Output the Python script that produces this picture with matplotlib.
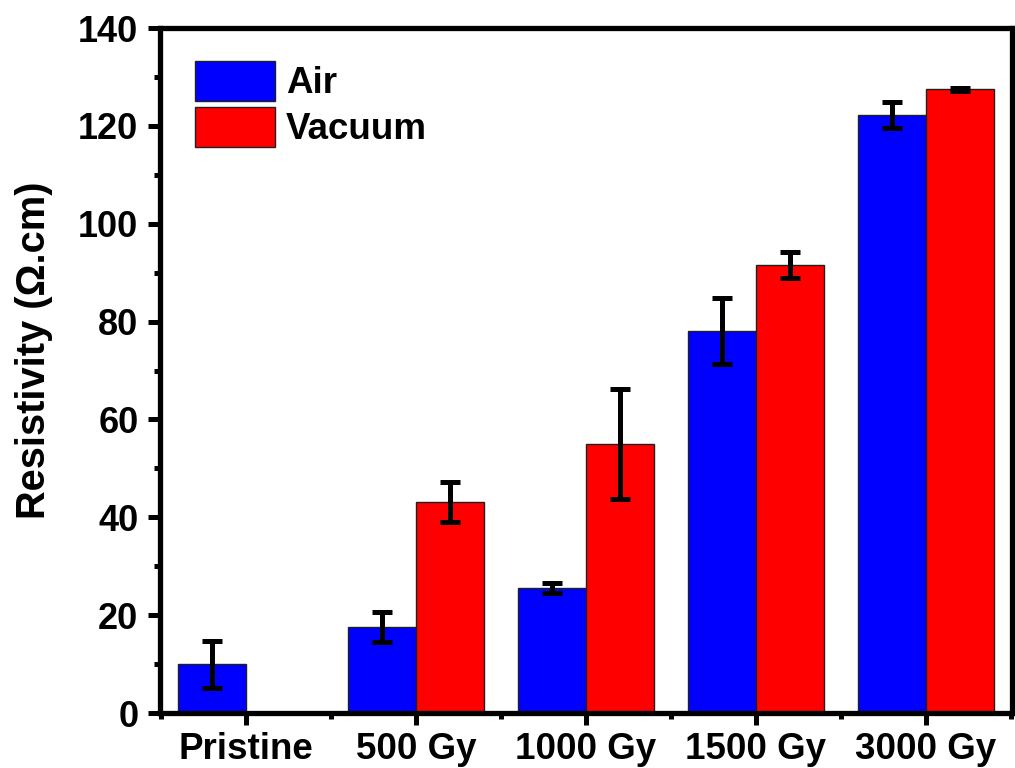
import numpy as np
import matplotlib.pyplot as plt
from matplotlib.ticker import MultipleLocator, FixedLocator

# Data
categories = ["Pristine", "500 Gy", "1000 Gy", "1500 Gy", "3000 Gy"]
air_values = [10.0, 17.6, 25.6, 78.1, 122.2]
air_errors = [4.8, 3.0, 1.0, 6.7, 2.7]
vacuum_values = [np.nan, 43.1, 55.0, 91.6, 127.5]
vacuum_errors = [np.nan, 4.1, 11.3, 2.7, 0.3]


def main():
    plt.rcParams['font.family'] = ['Liberation Sans', 'DejaVu Sans']
    plt.rcParams['font.weight'] = 'bold'

    fig = plt.figure(figsize=(10.15, 7.68), dpi=100)
    ax = fig.add_axes([0.1576, 0.0716, 0.8394, 0.8919])

    x = np.arange(len(categories))
    width = 0.4
    err_kw = dict(elinewidth=3.6, capsize=7, capthick=3.6, ecolor='black')

    ax.bar(x - width / 2, air_values, width, yerr=air_errors, color='#0000ff',
           edgecolor='#202020', linewidth=1, label='Air', error_kw=err_kw)
    ax.bar(x + width / 2, vacuum_values, width, yerr=vacuum_errors, color='#ff0000',
           edgecolor='#202020', linewidth=1, label='Vacuum', error_kw=err_kw)

    ax.set_xlim(-0.506, len(categories) - 1 + 0.506)
    ax.set_ylim(0, 140)
    ax.set_xticks(x)
    ax.set_xticklabels(categories, fontsize=26.5, fontweight='bold')
    ax.xaxis.set_minor_locator(FixedLocator(np.arange(-0.5, len(categories), 1.0)))
    ax.yaxis.set_major_locator(MultipleLocator(20))
    ax.yaxis.set_minor_locator(MultipleLocator(10))
    for lab in ax.get_yticklabels():
        lab.set_fontsize(26)
        lab.set_fontweight('bold')

    ax.tick_params(which='major', direction='out', length=8.5, width=3.6, pad=5)
    ax.tick_params(which='minor', direction='out', length=4, width=3.6)
    ax.tick_params(axis='y', which='major', pad=7)
    ax.tick_params(top=False, right=False, which='both')
    for sp in ax.spines.values():
        sp.set_linewidth(3.8)

    ax.set_ylabel('Resistivity (Ω.cm)', fontsize=28.7, fontweight='bold')
    ax.yaxis.set_label_coords(-0.126, 0.53)

    ax.legend(loc='upper left', bbox_to_anchor=(0.041, 0.952), frameon=False,
              handlelength=2.17, handleheight=1.3, handletextpad=0.3,
              labelspacing=0.15, borderpad=0, borderaxespad=0,
              prop={'size': 26.5, 'weight': 'bold'})

    fig.savefig('out.png', dpi=100)


if __name__ == "__main__":
    main()
